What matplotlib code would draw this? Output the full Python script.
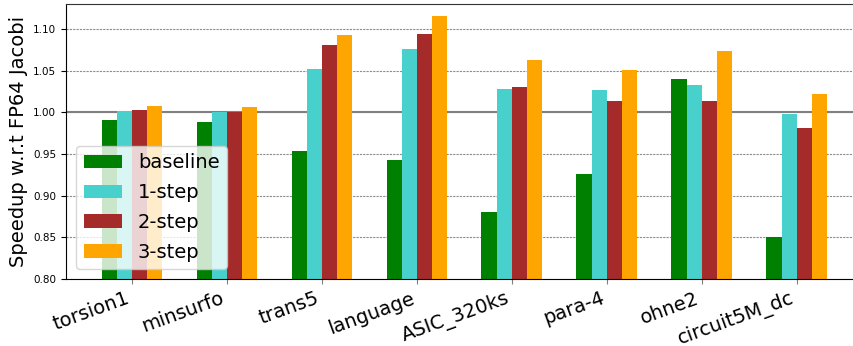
import numpy as np
import matplotlib
matplotlib.use("Agg")
import matplotlib.pyplot as plt

matrices = ["torsion1", "minsurfo", "trans5", "language", "ASIC_320ks",
            "para-4", "ohne2", "circuit5M_dc"]
series_names = ["baseline", "1-step", "2-step", "3-step"]
baseline = [0.991, 0.989, 0.954, 0.943, 0.881, 0.926, 1.040, 0.850]
step1 = [1.002, 1.000, 1.052, 1.076, 1.028, 1.027, 1.033, 0.998]
step2 = [1.003, 1.000, 1.081, 1.094, 1.031, 1.014, 1.014, 0.981]
step3 = [1.008, 1.006, 1.093, 1.116, 1.063, 1.051, 1.074, 1.022]
colors = ["green", "mediumturquoise", "brown", "orange"]

fig = plt.figure(figsize=(8.54, 3.46), dpi=100)
ax = fig.add_axes([0.0773, 0.1936, 0.933, 0.7948])

x = np.arange(len(matrices))
width = 0.16
for i, (vals, name, c) in enumerate(zip([baseline, step1, step2, step3],
                                         series_names, colors)):
    ax.bar(x + (i - 1.5) * width, np.array(vals) - 0.8, width, bottom=0.8,
           color=c, label=name, zorder=2)

ax.set_axisbelow(True)
ax.yaxis.grid(True, linestyle=(0, (2.0, 1.0)), color="gray", alpha=0.9,
              linewidth=0.8)
ax.axhline(1.0, color="gray", linewidth=1.5, zorder=1)

ax.set_ylim(0.80, 1.13)
ax.set_xlim(-0.695, 7.695)
ax.set_yticks(np.arange(0.80, 1.101, 0.05))
ax.set_yticklabels([f"{v:.2f}" for v in np.arange(0.80, 1.101, 0.05)],
                   fontsize=7.5)
ax.set_xticks(x)
ax.set_xticklabels(matrices, fontsize=14, rotation=20, ha="right")
ax.tick_params(axis="x", color="gray", length=3.5)
ax.spines["top"].set_color("#333333")
ax.set_ylabel("Speedup w.r.t FP64 Jacobi", fontsize=14)
ax.legend(loc="lower left", fontsize=14, labelspacing=0.55)

fig.savefig("out.png", dpi=100)
